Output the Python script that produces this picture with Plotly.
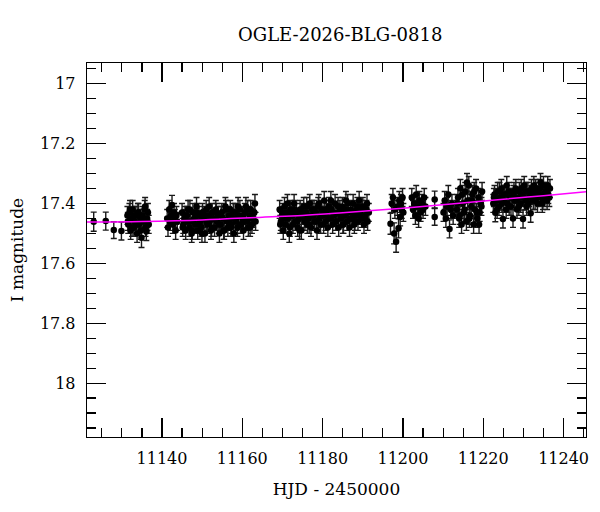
import plotly.graph_objects as go

# ---- data: (HJD-2450000, I mag, error) per observing block ----
block_a = [(11123.0, 17.461, 0.032), (11126.0, 17.459, 0.030), (11128.0, 17.489, 0.028), (11129.9, 17.492, 0.030)]

block_b = [(11131.4, 17.44, 0.03), (11131.6, 17.47, 0.03), (11131.9, 17.43, 0.03), (11132.2, 17.49, 0.03),
           (11132.4, 17.45, 0.03), (11132.7, 17.42, 0.03), (11133.0, 17.48, 0.03), (11133.2, 17.46, 0.03),
           (11133.5, 17.44, 0.03), (11133.8, 17.50, 0.03), (11134.0, 17.43, 0.03), (11134.3, 17.47, 0.03),
           (11134.6, 17.45, 0.03), (11134.9, 17.515, 0.032), (11135.1, 17.44, 0.03), (11135.4, 17.46, 0.03),
           (11135.7, 17.42, 0.03), (11135.9, 17.48, 0.03), (11136.1, 17.494, 0.03), (11136.3, 17.45, 0.03),
           (11136.5, 17.43, 0.03), (11136.7, 17.47, 0.03),
           (11131.5, 17.46, 0.03), (11132.05, 17.42, 0.03), (11132.55, 17.48, 0.03), (11133.1, 17.44, 0.03),
           (11133.65, 17.47, 0.03), (11134.15, 17.43, 0.03), (11134.75, 17.49, 0.03), (11135.25, 17.45, 0.03),
           (11135.8, 17.41, 0.03), (11136.4, 17.46, 0.03)]

block_c = [(11141.3, 17.45, 0.03), (11141.5, 17.48, 0.03), (11141.8, 17.42, 0.03), (11142.0, 17.46, 0.03),
           (11142.2, 17.44, 0.03), (11142.5, 17.405, 0.032), (11142.7, 17.47, 0.03), (11143.0, 17.43, 0.03),
           (11143.2, 17.45, 0.03), (11143.4, 17.49, 0.03), (11143.6, 17.44, 0.03), (11143.8, 17.46, 0.03)]

block_d = [(11145.0, 17.43, 0.03), (11145.3, 17.47, 0.03), (11145.6, 17.45, 0.03), (11145.9, 17.49, 0.03),
           (11146.2, 17.44, 0.03), (11146.5, 17.42, 0.03), (11146.8, 17.48, 0.03), (11147.1, 17.46, 0.03),
           (11147.4, 17.50, 0.03), (11147.7, 17.43, 0.03), (11148.0, 17.45, 0.03), (11148.3, 17.47, 0.03),
           (11148.6, 17.41, 0.03), (11148.9, 17.49, 0.03), (11149.2, 17.44, 0.03), (11149.5, 17.46, 0.03),
           (11149.8, 17.48, 0.03), (11150.1, 17.43, 0.03), (11150.4, 17.45, 0.03), (11150.7, 17.50, 0.03),
           (11151.0, 17.42, 0.03), (11151.3, 17.47, 0.03), (11151.6, 17.44, 0.03), (11151.9, 17.46, 0.03),
           (11152.2, 17.49, 0.03), (11152.5, 17.43, 0.03), (11152.8, 17.45, 0.03), (11153.1, 17.48, 0.03),
           (11153.4, 17.42, 0.03), (11153.7, 17.46, 0.03), (11154.0, 17.44, 0.03), (11154.3, 17.50, 0.03),
           (11154.6, 17.47, 0.03), (11154.9, 17.43, 0.03), (11155.2, 17.45, 0.03), (11155.5, 17.49, 0.03),
           (11155.8, 17.41, 0.03), (11156.1, 17.46, 0.03), (11156.4, 17.48, 0.03), (11156.7, 17.44, 0.03),
           (11157.0, 17.42, 0.03), (11157.3, 17.47, 0.03), (11157.6, 17.45, 0.03), (11157.9, 17.50, 0.03),
           (11158.2, 17.43, 0.03), (11158.5, 17.46, 0.03), (11158.8, 17.48, 0.03), (11159.1, 17.44, 0.03),
           (11159.4, 17.42, 0.03), (11159.7, 17.47, 0.03), (11160.0, 17.45, 0.03), (11160.3, 17.49, 0.03),
           (11160.6, 17.43, 0.03), (11160.9, 17.41, 0.03), (11161.2, 17.46, 0.03), (11161.5, 17.48, 0.03),
           (11161.8, 17.44, 0.03), (11162.1, 17.42, 0.03), (11162.4, 17.47, 0.03), (11162.7, 17.45, 0.03),
           (11163.0, 17.43, 0.03), (11163.3, 17.46, 0.03)]

block_d2 = [(11145.15, 17.48, 0.03), (11145.75, 17.44, 0.03), (11146.35, 17.46, 0.03), (11146.95, 17.42, 0.03),
            (11147.55, 17.49, 0.03), (11148.15, 17.45, 0.03), (11148.75, 17.43, 0.03), (11149.35, 17.47, 0.03),
            (11149.95, 17.50, 0.03), (11150.55, 17.44, 0.03), (11151.15, 17.46, 0.03), (11151.75, 17.41, 0.03),
            (11152.35, 17.48, 0.03), (11152.95, 17.45, 0.03), (11153.55, 17.43, 0.03), (11154.15, 17.47, 0.03),
            (11154.75, 17.44, 0.03), (11155.35, 17.49, 0.03), (11155.95, 17.42, 0.03), (11156.55, 17.46, 0.03),
            (11157.15, 17.48, 0.03), (11157.75, 17.43, 0.03), (11158.35, 17.45, 0.03), (11158.95, 17.41, 0.03),
            (11159.55, 17.47, 0.03), (11160.15, 17.44, 0.03), (11160.75, 17.46, 0.03), (11161.35, 17.42, 0.03),
            (11161.95, 17.48, 0.03), (11162.55, 17.45, 0.03), (11163.15, 17.40, 0.03)]

block_e = [(11169.3, 17.42, 0.03), (11169.6, 17.46, 0.03), (11169.9, 17.44, 0.03), (11170.2, 17.49, 0.03),
           (11170.5, 17.41, 0.03), (11170.8, 17.47, 0.03), (11171.1, 17.43, 0.03), (11171.4, 17.45, 0.03),
           (11171.7, 17.50, 0.03), (11172.0, 17.42, 0.03), (11172.3, 17.44, 0.03), (11172.6, 17.47, 0.03),
           (11172.9, 17.40, 0.03), (11173.2, 17.46, 0.03), (11173.5, 17.43, 0.03), (11173.8, 17.48, 0.03),
           (11174.1, 17.45, 0.03), (11174.4, 17.42, 0.03), (11174.7, 17.49, 0.03), (11175.0, 17.44, 0.03),
           (11175.3, 17.41, 0.03), (11175.6, 17.46, 0.03), (11175.9, 17.43, 0.03), (11176.2, 17.47, 0.03),
           (11176.5, 17.45, 0.03), (11176.8, 17.40, 0.03), (11177.1, 17.48, 0.03), (11177.4, 17.42, 0.03),
           (11177.7, 17.44, 0.03), (11178.0, 17.46, 0.03), (11178.3, 17.43, 0.03), (11178.6, 17.49, 0.03),
           (11178.9, 17.41, 0.03), (11179.2, 17.45, 0.03), (11179.5, 17.47, 0.03), (11179.8, 17.42, 0.03),
           (11180.1, 17.44, 0.03), (11180.4, 17.39, 0.03), (11180.7, 17.46, 0.03), (11181.0, 17.43, 0.03),
           (11181.3, 17.48, 0.03), (11181.6, 17.41, 0.03), (11181.9, 17.45, 0.03), (11182.2, 17.42, 0.03),
           (11182.5, 17.47, 0.03), (11182.8, 17.44, 0.03), (11183.1, 17.40, 0.03), (11183.4, 17.46, 0.03),
           (11183.7, 17.43, 0.03), (11184.0, 17.48, 0.03), (11184.3, 17.42, 0.03), (11184.6, 17.45, 0.03),
           (11184.9, 17.41, 0.03), (11185.2, 17.47, 0.03), (11185.5, 17.44, 0.03), (11185.8, 17.39, 0.03),
           (11186.1, 17.46, 0.03), (11186.4, 17.43, 0.03), (11186.7, 17.48, 0.03), (11187.0, 17.42, 0.03),
           (11187.3, 17.45, 0.03), (11187.6, 17.40, 0.03), (11187.9, 17.47, 0.03), (11188.2, 17.44, 0.03),
           (11188.5, 17.42, 0.03), (11188.8, 17.46, 0.03), (11189.1, 17.39, 0.03), (11189.4, 17.43, 0.03),
           (11189.7, 17.45, 0.03), (11190.0, 17.41, 0.03), (11190.3, 17.47, 0.03), (11190.6, 17.44, 0.03),
           (11190.9, 17.42, 0.03), (11191.2, 17.46, 0.03), (11191.5, 17.43, 0.03)]

block_e2 = [(11169.45, 17.47, 0.03), (11170.05, 17.43, 0.03), (11170.65, 17.45, 0.03), (11171.25, 17.40, 0.03),
            (11171.85, 17.48, 0.03), (11172.45, 17.44, 0.03), (11173.05, 17.42, 0.03), (11173.65, 17.46, 0.03),
            (11174.25, 17.49, 0.03), (11174.85, 17.43, 0.03), (11175.45, 17.45, 0.03), (11176.05, 17.41, 0.03),
            (11176.65, 17.47, 0.03), (11177.25, 17.44, 0.03), (11177.85, 17.42, 0.03), (11178.45, 17.46, 0.03),
            (11179.05, 17.40, 0.03), (11179.65, 17.44, 0.03), (11180.25, 17.47, 0.03), (11180.85, 17.42, 0.03),
            (11181.45, 17.45, 0.03), (11182.05, 17.39, 0.03), (11182.65, 17.43, 0.03), (11183.25, 17.46, 0.03),
            (11183.85, 17.41, 0.03), (11184.45, 17.44, 0.03), (11185.05, 17.47, 0.03), (11185.65, 17.42, 0.03),
            (11186.25, 17.40, 0.03), (11186.85, 17.45, 0.03), (11187.45, 17.43, 0.03), (11188.05, 17.46, 0.03),
            (11188.65, 17.41, 0.03), (11189.25, 17.44, 0.03), (11189.85, 17.42, 0.03), (11190.45, 17.45, 0.03),
            (11191.05, 17.40, 0.03)]

block_f = [(11196.9, 17.468, 0.035), (11197.2, 17.40, 0.03), (11197.5, 17.38, 0.03), (11197.8, 17.50, 0.035),
           (11198.0, 17.42, 0.03), (11198.3, 17.528, 0.035), (11198.6, 17.41, 0.03), (11198.9, 17.483, 0.032),
           (11199.1, 17.39, 0.03), (11199.3, 17.445, 0.03), (11199.5, 17.40, 0.03), (11199.7, 17.42, 0.03),
           (11199.9, 17.38, 0.03), (11200.1, 17.43, 0.03)]

block_g = [(11202.2, 17.38, 0.03), (11202.5, 17.42, 0.03), (11202.8, 17.40, 0.03), (11203.1, 17.44, 0.03),
           (11203.3, 17.37, 0.03), (11203.6, 17.41, 0.03), (11203.9, 17.45, 0.03), (11204.1, 17.39, 0.03),
           (11204.4, 17.43, 0.03), (11204.7, 17.40, 0.03), (11205.0, 17.42, 0.03), (11205.3, 17.38, 0.03),
           (11205.6, 17.41, 0.03)]

block_h = [(11207.9, 17.387, 0.028), (11207.9, 17.445, 0.028)]

block_i = [(11210.1, 17.43, 0.03), (11210.4, 17.39, 0.03), (11210.7, 17.45, 0.03), (11211.0, 17.41, 0.03),
           (11211.3, 17.37, 0.03), (11211.6, 17.485, 0.03), (11211.9, 17.42, 0.03), (11212.2, 17.40, 0.03),
           (11212.5, 17.44, 0.03),
           (11213.4, 17.42, 0.03), (11213.7, 17.38, 0.03), (11214.0, 17.45, 0.03), (11214.3, 17.35, 0.03),
           (11214.6, 17.47, 0.03), (11214.9, 17.40, 0.03), (11215.2, 17.43, 0.03), (11215.5, 17.36, 0.03),
           (11215.8, 17.46, 0.03), (11216.1, 17.39, 0.03), (11216.4, 17.34, 0.03), (11216.7, 17.44, 0.03),
           (11217.0, 17.41, 0.03), (11217.3, 17.37, 0.03), (11217.6, 17.47, 0.03), (11217.9, 17.42, 0.03),
           (11218.2, 17.35, 0.03), (11218.5, 17.45, 0.03), (11218.8, 17.38, 0.03), (11219.1, 17.43, 0.03),
           (11219.4, 17.40, 0.03), (11219.7, 17.36, 0.03),
           (11213.55, 17.40, 0.03), (11214.15, 17.44, 0.03), (11214.75, 17.37, 0.03), (11215.35, 17.42, 0.03),
           (11215.95, 17.33, 0.03), (11216.55, 17.45, 0.03), (11217.15, 17.39, 0.03), (11217.75, 17.36, 0.03),
           (11218.35, 17.43, 0.03), (11218.95, 17.47, 0.03), (11219.55, 17.41, 0.03)]

block_j = [(11222.5, 17.40, 0.03), (11222.8, 17.37, 0.03), (11223.0, 17.431, 0.03), (11223.3, 17.39, 0.03),
           (11223.6, 17.36, 0.03), (11223.9, 17.41, 0.03), (11224.2, 17.38, 0.03), (11224.5, 17.35, 0.03),
           (11224.9, 17.452, 0.03), (11225.1, 17.39, 0.03), (11225.4, 17.37, 0.03), (11225.7, 17.42, 0.03),
           (11226.0, 17.40, 0.03), (11226.3, 17.36, 0.03), (11226.6, 17.38, 0.03), (11226.9, 17.41, 0.03),
           (11227.4, 17.45, 0.03), (11227.5, 17.37, 0.03), (11227.8, 17.39, 0.03), (11228.1, 17.35, 0.03),
           (11228.4, 17.42, 0.03), (11228.7, 17.38, 0.03), (11229.0, 17.36, 0.03), (11229.3, 17.40, 0.03),
           (11229.9, 17.452, 0.03), (11229.6, 17.37, 0.03), (11230.2, 17.34, 0.03), (11230.5, 17.39, 0.03),
           (11230.8, 17.41, 0.03), (11231.1, 17.36, 0.03), (11231.4, 17.38, 0.03), (11231.8, 17.433, 0.03),
           (11232.0, 17.35, 0.03), (11232.3, 17.37, 0.03), (11232.6, 17.34, 0.03), (11232.9, 17.39, 0.03),
           (11233.2, 17.36, 0.03), (11233.5, 17.40, 0.03), (11233.8, 17.38, 0.03), (11234.1, 17.35, 0.03),
           (11234.4, 17.37, 0.03), (11234.7, 17.40, 0.03), (11235.0, 17.34, 0.03), (11235.3, 17.38, 0.03),
           (11235.6, 17.36, 0.03), (11235.9, 17.39, 0.03), (11236.2, 17.37, 0.03), (11236.6, 17.35, 0.03)]

block_j2 = [(11222.65, 17.38, 0.03), (11223.45, 17.42, 0.03), (11224.05, 17.36, 0.03), (11224.65, 17.40, 0.03),
            (11225.25, 17.37, 0.03), (11225.85, 17.34, 0.03), (11226.45, 17.41, 0.03), (11227.05, 17.38, 0.03),
            (11227.65, 17.36, 0.03), (11228.25, 17.39, 0.03), (11228.85, 17.41, 0.03), (11229.45, 17.35, 0.03),
            (11230.05, 17.38, 0.03), (11230.65, 17.36, 0.03), (11231.25, 17.40, 0.03), (11231.95, 17.37, 0.03),
            (11232.45, 17.39, 0.03), (11233.05, 17.35, 0.03), (11233.65, 17.37, 0.03), (11234.25, 17.33, 0.03),
            (11234.85, 17.39, 0.03), (11235.45, 17.36, 0.03), (11236.05, 17.34, 0.03), (11236.45, 17.38, 0.03)]

# ---- model curve ----
model_hjd = [11121.3, 11135.0, 11150.0, 11165.0, 11175.0, 11185.0, 11200.0, 11212.0, 11225.0, 11235.0, 11245.6]
model_mag = [17.462, 17.460, 17.455, 17.446, 17.440, 17.431, 17.416, 17.402, 17.386, 17.374, 17.361]

title_text = "OGLE-2026-BLG-0818"
x_title = "HJD - 2450000"
y_title = "I magnitude"

blocks = [block_a, block_b, block_c, block_d, block_d2, block_e, block_e2,
          block_f, block_g, block_h, block_i, block_j, block_j2]
hjd, mag, err = [], [], []
for b in blocks:
    for t, m, e in b:
        hjd.append(t)
        mag.append(m)
        err.append(e)

FONT = "DejaVu Serif"

fig = go.Figure()
fig.add_trace(go.Scatter(
    x=hjd, y=mag, mode="markers",
    marker=dict(color="black", size=6.5, symbol="circle"),
    error_y=dict(type="data", array=err, visible=True, color="#1a1a1a", thickness=1.4, width=3),
    showlegend=False, hoverinfo="skip",
))
fig.add_trace(go.Scatter(
    x=model_hjd, y=model_mag, mode="lines",
    line=dict(color="#ff00ff", width=1.5, shape="spline"),
    showlegend=False, hoverinfo="skip",
))

axis_common = dict(
    showgrid=False, zeroline=False, automargin=False,
    showline=True, linecolor="black", linewidth=1.3,
    mirror="ticks", ticks="inside", ticklen=19, tickwidth=1.2, tickcolor="black",
    tickfont=dict(family=FONT, size=16, color="black"),
)

fig.update_layout(
    width=600, height=512,
    margin=dict(l=87, r=14, t=63, b=75),
    paper_bgcolor="white", plot_bgcolor="white",
    title=dict(text=title_text, x=0.567, xanchor="center", y=1 - 35 / 512, yanchor="middle",
               font=dict(family=FONT, size=18, color="black")),
    xaxis=dict(range=[11121.33, 11245.58], tick0=11140, dtick=20, tickformat="d",
               minor=dict(ticks="inside", ticklen=9, tickwidth=1.2, tickcolor="black", dtick=5, tick0=11140, showgrid=False),
               title=dict(text=x_title, font=dict(family=FONT, size=17, color="black"), standoff=16),
               ticklabelstandoff=6,
               **axis_common),
    yaxis=dict(range=[18.18, 16.931], tick0=17, dtick=0.2,
               minor=dict(ticks="inside", ticklen=9, tickwidth=1.2, tickcolor="black", dtick=0.05, tick0=17, showgrid=False),
               title=dict(text=y_title, font=dict(family=FONT, size=17, color="black"), standoff=12),
               ticklabelstandoff=7,
               **axis_common),
)

fig.write_html("out.html", config={"displayModeBar": False, "staticPlot": True},
               post_script="document.body.style.margin='0';")
